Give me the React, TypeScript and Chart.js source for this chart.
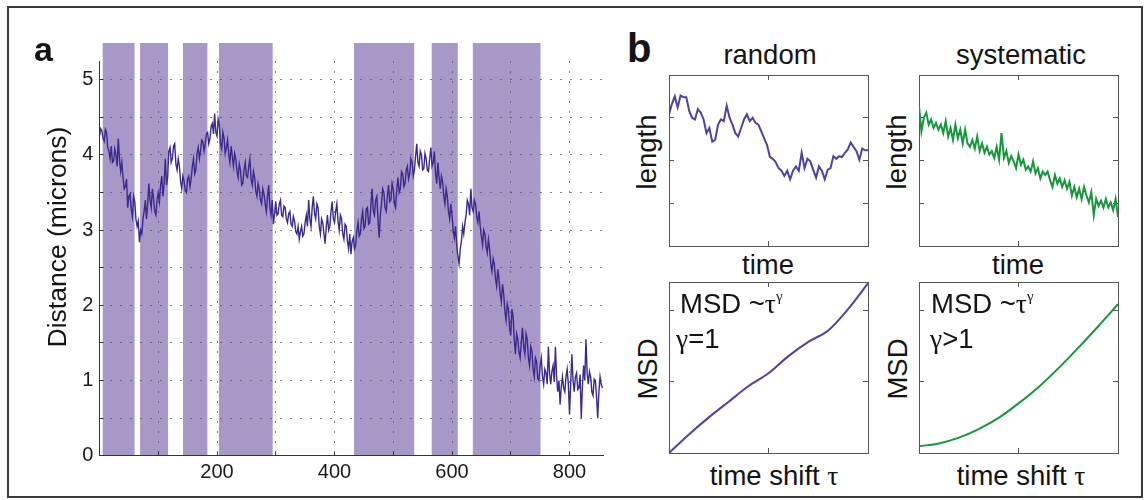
import React, { useEffect, useRef } from "react";
import { Chart, registerables } from "chart.js";

Chart.register(...registerables);

// ---------------- data ----------------
// panel a: distance trace, one sample every FRAME_STEP frames starting at frame 0
const FRAME_STEP = 2;
const DISTANCE_MICRONS = [
  4.25, 4.35, 4.32, 4.22, 4.18, 4.34, 4.30, 4.10, 4.05, 3.95, 4.12, 3.90, 3.92, 4.08, 4.00, 3.85, 4.22, 3.95, 3.78, 3.90,
  3.70, 3.55, 3.58, 3.68, 3.30, 3.45, 3.48, 3.28, 3.18, 3.45, 3.38, 3.15, 3.05, 3.12, 2.84, 3.00, 2.95, 3.15, 3.25, 3.40,
  3.15, 3.35, 3.62, 3.40, 3.30, 3.55, 3.42, 3.25, 3.20, 3.40, 3.50, 3.38, 3.60, 3.72, 3.45, 3.62, 3.95, 3.60, 3.70, 4.05,
  4.10, 3.90, 3.95, 4.12, 4.15, 3.88, 3.80, 3.95, 3.85, 3.65, 3.55, 3.72, 3.65, 3.52, 3.50, 3.68, 3.72, 3.58, 3.68, 3.85,
  3.95, 3.75, 3.80, 4.02, 4.10, 3.95, 4.05, 4.20, 4.18, 4.05, 4.15, 4.28, 4.30, 4.15, 4.22, 4.38, 4.42, 4.28, 4.55, 4.30,
  4.25, 4.48, 4.40, 4.15, 4.08, 4.30, 4.22, 4.02, 4.10, 4.20, 4.00, 3.90, 4.12, 3.98, 3.85, 4.02, 3.95, 3.78, 3.70, 3.88,
  3.80, 3.60, 3.62, 3.80, 3.90, 3.72, 3.70, 3.85, 3.95, 3.68, 3.60, 3.78, 3.70, 3.52, 3.45, 3.62, 3.55, 3.40, 3.35, 3.55,
  3.48, 3.35, 3.25, 3.45, 3.60, 3.30, 3.20, 3.40, 3.08, 3.22, 3.38, 3.20, 3.22, 3.35, 3.40, 3.20, 3.18, 3.32, 3.30, 3.15,
  3.10, 3.22, 3.25, 3.08, 3.05, 3.18, 3.12, 2.98, 2.95, 3.05, 2.88, 2.98, 3.05, 2.92, 2.95, 3.10, 3.20, 3.05, 3.40, 3.15,
  3.05, 3.30, 3.45, 3.22, 3.15, 3.35, 3.30, 3.05, 2.95, 3.15, 3.10, 2.95, 2.82, 3.05, 3.20, 3.00, 3.05, 3.25, 3.38, 3.15,
  3.10, 3.25, 3.35, 3.12, 3.00, 3.20, 3.15, 2.95, 2.88, 3.08, 3.05, 2.85, 2.75, 2.95, 2.68, 2.85, 2.90, 2.75, 2.80, 3.00,
  3.10, 2.92, 2.95, 3.15, 3.25, 3.02, 3.05, 3.28, 3.30, 3.08, 3.10, 3.35, 3.55, 3.25, 3.20, 3.40, 3.45, 3.15, 2.90, 3.20,
  3.35, 3.55, 3.50, 3.30, 3.25, 3.45, 3.60, 3.38, 3.40, 3.62, 3.55, 3.35, 3.30, 3.55, 3.70, 3.50, 3.55, 3.78, 3.75, 3.58,
  3.62, 3.80, 3.85, 3.68, 3.75, 3.95, 3.90, 3.72, 3.80, 3.98, 4.15, 3.90, 3.85, 4.05, 4.00, 3.80, 3.82, 4.02, 3.95, 3.80,
  3.78, 3.95, 4.10, 3.85, 3.90, 4.05, 3.75, 3.62, 3.90, 3.70, 3.55, 3.72, 3.65, 3.45, 3.35, 3.55, 3.45, 3.25, 3.15, 3.35,
  3.20, 3.00, 2.90, 3.05, 2.80, 2.65, 2.55, 2.75, 2.85, 3.05, 2.95, 3.10, 3.20, 3.40, 3.35, 3.20, 3.55, 3.30, 3.25, 3.40,
  3.35, 3.18, 3.10, 3.25, 3.05, 2.92, 2.80, 3.00, 2.95, 2.78, 2.70, 2.88, 2.75, 2.55, 2.45, 2.62, 2.55, 2.35, 2.25, 2.48,
  2.35, 2.15, 2.05, 2.28, 2.15, 1.92, 1.80, 2.02, 1.95, 1.70, 1.60, 1.95, 1.85, 1.55, 1.35, 1.62, 1.55, 1.38, 1.30, 1.52,
  1.70, 1.45, 1.35, 1.62, 1.55, 1.30, 1.20, 1.45, 1.40, 1.15, 1.05, 1.30, 1.25, 1.02, 1.00, 1.20, 1.30, 1.05, 0.95, 1.15,
  1.10, 0.95, 1.45, 1.10, 0.95, 1.12, 1.20, 0.98, 1.45, 1.05, 0.85, 1.00, 0.68, 0.92, 1.05, 0.90, 0.85, 1.05, 1.15, 0.95,
  0.55, 0.95, 1.35, 1.00, 0.85, 1.05, 1.10, 0.88, 0.90, 1.08, 0.50, 0.92, 1.20, 1.00, 1.55, 1.10, 0.95, 1.12, 1.05, 0.85,
  0.80, 1.02, 1.00, 0.78, 0.50, 0.85, 1.05, 0.95, 0.90,
];
const BAND_START = [5, 69, 142, 203, 433, 565, 635];
const BAND_END = [60, 117, 184, 295, 536, 610, 751];
const BAND_TOP = 5.5;
const X_MAX = 857;
const Y_MAX = 5.25;
const X_TICK_LABELS = [200, 400, 600, 800];
const Y_TICK_LABELS = [0, 1, 2, 3, 4, 5];

// panel b: normalised traces (0 = bottom of box, 1 = top)
const RANDOM_LENGTH = [
  0.77, 0.83, 0.875, 0.81, 0.88, 0.87, 0.87, 0.79, 0.75, 0.74,
  0.80, 0.78, 0.74, 0.66, 0.69, 0.61, 0.62, 0.71, 0.74, 0.73,
  0.82, 0.75, 0.71, 0.66, 0.64, 0.69, 0.74, 0.77, 0.73, 0.75,
  0.72, 0.71, 0.67, 0.63, 0.59, 0.52, 0.51, 0.49, 0.455, 0.44,
  0.41, 0.44, 0.39, 0.44, 0.465, 0.44, 0.545, 0.455, 0.51, 0.495,
  0.445, 0.40, 0.465, 0.44, 0.39, 0.445, 0.455, 0.525, 0.51, 0.525,
  0.52, 0.545, 0.565, 0.605, 0.58, 0.555, 0.505, 0.57, 0.56, 0.56,
];
const SYSTEMATIC_LENGTH = [
  0.82, 0.67, 0.75, 0.78, 0.71, 0.74, 0.69, 0.72, 0.68, 0.71,
  0.66, 0.73, 0.64, 0.69, 0.62, 0.71, 0.63, 0.68, 0.60, 0.68,
  0.60, 0.58, 0.62, 0.57, 0.64, 0.555, 0.60, 0.545, 0.58, 0.535,
  0.555, 0.515, 0.58, 0.505, 0.66, 0.515, 0.555, 0.485, 0.525, 0.495,
  0.455, 0.535, 0.475, 0.505, 0.445, 0.465, 0.435, 0.495, 0.425, 0.455,
  0.395, 0.435, 0.415, 0.435, 0.385, 0.345, 0.415, 0.365, 0.395, 0.345,
  0.385, 0.335, 0.375, 0.295, 0.345, 0.285, 0.335, 0.275, 0.345, 0.295,
  0.255, 0.315, 0.18, 0.275, 0.235, 0.265, 0.225, 0.275, 0.225, 0.255,
  0.21, 0.275, 0.17,
];
const MSD_TAU = [0, 0.1, 0.2, 0.3, 0.4, 0.5, 0.6, 0.7, 0.8, 0.9, 1.0];
const MSD_RANDOM = [0.0, 0.13, 0.25, 0.36, 0.47, 0.56, 0.68, 0.78, 0.86, 1.01, 1.19];
const MSD_SYSTEMATIC = [0.048, 0.067, 0.108, 0.168, 0.246, 0.348, 0.462, 0.594, 0.738, 0.888, 1.044];

// ---------------- styles ----------------
const SANS = "'Liberation Sans', Arial, Helvetica, sans-serif";
const SERIF = "'Liberation Serif', 'DejaVu Serif', serif";
const BAND_COLOR = "#a898c8";
const TRACE_COLOR = "#3b2a8c";
const BLUE = "#4a44a2";
const GREEN = "#17973c";
const GRID_DOT = "rgba(70,70,70,0.65)";

const baseOptions = {
  animation: false,
  responsive: false,
  maintainAspectRatio: false,
  devicePixelRatio: 1,
  events: [],
  plugins: { legend: { display: false }, tooltip: { enabled: false }, title: { display: false } },
};

function bandsConfig(): any {
  return {
    type: "line",
    data: {
      datasets: BAND_START.map((s, i) => ({
        data: [
          { x: s, y: BAND_TOP },
          { x: BAND_END[i], y: BAND_TOP },
        ],
        fill: "origin",
        backgroundColor: BAND_COLOR,
        borderColor: "rgba(0,0,0,0)",
        borderWidth: 0,
        pointRadius: 0,
      })),
    },
    options: {
      ...baseOptions,
      layout: { padding: { left: 79.5, top: 12.65, right: 17, bottom: 34.3 } },
      scales: {
        x: { type: "linear", min: 0, max: X_MAX, display: false },
        y: { type: "linear", min: 0, max: BAND_TOP, display: false },
      },
    },
  };
}

function mainConfig(): any {
  return {
    type: "line",
    data: {
      datasets: [
        {
          data: DISTANCE_MICRONS.map((v, i) => ({ x: i * FRAME_STEP, y: v })),
          borderColor: TRACE_COLOR,
          borderWidth: 1.4,
          pointRadius: 0,
          fill: false,
          tension: 0,
        },
      ],
    },
    options: {
      ...baseOptions,
      layout: { padding: { left: 0, top: 31, right: 17, bottom: 0 } },
      scales: {
        x: {
          type: "linear",
          position: "bottom",
          min: 0,
          max: X_MAX,
          ticks: {
            stepSize: 100,
            includeBounds: false,
            autoSkip: false,
            maxRotation: 0,
            minRotation: 0,
            padding: 8.5,
            color: "#1a1a1a",
            font: { family: SANS, size: 20 },
            callback: (v: number) => (X_TICK_LABELS.includes(Math.round(v)) ? String(Math.round(v)) : ""),
          },
          grid: { color: GRID_DOT, lineWidth: 1, drawTicks: true, tickLength: -4, tickColor: "#333", tickWidth: 1 },
          border: { display: true, color: "#333", width: 1, dash: [2, 8] },
          afterFit: (s: any) => {
            s.height = 34.3;
          },
        },
        y: {
          type: "linear",
          position: "left",
          min: 0,
          max: Y_MAX,
          ticks: {
            stepSize: 0.5,
            includeBounds: false,
            autoSkip: false,
            padding: 10.2,
            color: "#1a1a1a",
            font: { family: SANS, size: 20 },
            callback: (v: number) =>
              Math.abs(v - Math.round(v)) < 1e-6 && Y_TICK_LABELS.includes(Math.round(v)) ? String(Math.round(v)) : "",
          },
          grid: { color: GRID_DOT, lineWidth: 1, drawTicks: true, tickLength: -4, tickColor: "#333", tickWidth: 1 },
          border: { display: true, color: "#333", width: 1, dash: [2, 8] },
          afterFit: (s: any) => {
            s.width = 79.5;
          },
        },
      },
    },
  };
}

function boxAxis(position: string, max: number, step: number) {
  return {
    type: "linear",
    position,
    min: 0,
    max,
    display: true,
    ticks: { display: false, stepSize: step, includeBounds: false },
    grid: { drawOnChartArea: false, drawTicks: true, tickLength: -5, tickColor: "#555", tickWidth: 1 },
    border: { display: true, color: "#555", width: 1 },
    afterFit: (s: any) => {
      if (s.isHorizontal()) s.height = 0;
      else s.width = 0;
    },
  };
}

function boxConfig(points: { x: number; y: number }[], color: string, yMax: number, yStep: number, smooth: boolean): any {
  return {
    type: "line",
    data: {
      datasets: [
        {
          data: points,
          borderColor: color,
          borderWidth: 2,
          pointRadius: 0,
          fill: false,
          tension: smooth ? 0.4 : 0,
          cubicInterpolationMode: smooth ? "monotone" : "default",
        },
      ],
    },
    options: {
      ...baseOptions,
      layout: { padding: 2 },
      scales: {
        x: boxAxis("bottom", 1, 0.5),
        x2: boxAxis("top", 1, 0.5),
        y: boxAxis("left", yMax, yStep),
        y2: boxAxis("right", yMax, yStep),
      },
    },
  };
}

const traceConfig = (vals: number[], color: string) =>
  boxConfig(vals.map((v, i) => ({ x: i / (vals.length - 1), y: v })), color, 1, 0.25, false);
const msdConfig = (vals: number[], color: string) =>
  boxConfig(vals.map((v, i) => ({ x: MSD_TAU[i], y: v })), color, 1.2, 0.5, true);

// ---------------- components ----------------
function ChartCanvas(props: { left: number; top: number; width: number; height: number; build: () => any }) {
  const ref = useRef<HTMLCanvasElement>(null);
  useEffect(() => {
    const chart = new Chart(ref.current as HTMLCanvasElement, props.build());
    return () => chart.destroy();
  }, []);
  return (
    <canvas
      ref={ref}
      width={props.width}
      height={props.height}
      style={{ position: "absolute", left: props.left, top: props.top, width: props.width, height: props.height, display: "block" }}
    />
  );
}

function Text(props: {
  x: number;
  baseline: number;
  size: number;
  center?: boolean;
  bold?: boolean;
  children: React.ReactNode;
}) {
  const { x, baseline, size, center, bold, children } = props;
  return (
    <div
      style={{
        position: "absolute",
        left: x,
        top: baseline - 0.8465 * size,
        fontFamily: SANS,
        fontSize: size,
        lineHeight: `${size}px`,
        fontWeight: bold ? 700 : 400,
        whiteSpace: "nowrap",
        color: "#141414",
        transform: center ? "translateX(-50%)" : undefined,
      }}
    >
      {children}
    </div>
  );
}

function VText(props: { cx: number; cy: number; size: number; children: React.ReactNode }) {
  const { cx, cy, size, children } = props;
  return (
    <div
      style={{
        position: "absolute",
        left: cx,
        top: cy,
        fontFamily: SANS,
        fontSize: size,
        lineHeight: `${size}px`,
        whiteSpace: "nowrap",
        color: "#141414",
        transform: "translate(-50%, -50%) rotate(-90deg)",
      }}
    >
      {children}
    </div>
  );
}

const Greek = (p: { children: React.ReactNode; size?: number; raise?: number }) => (
  <span style={{ fontFamily: SERIF, fontSize: p.size, position: "relative", top: p.raise ? -p.raise : 0 }}>{p.children}</span>
);

export default function App() {
  const LX = 667;
  const RX = 917;
  const TY = 73;
  const BY = 280;
  const W = 203;
  const H = 175;
  return (
    <div style={{ position: "absolute", left: 0, top: 0, width: 1148, height: 500, background: "#fff", overflow: "hidden" }}>
      <div
        style={{
          position: "absolute",
          left: 7,
          top: 6,
          width: 1136,
          height: 492,
          border: "2px solid #3a3a3a",
          boxSizing: "border-box",
        }}
      />
      {/* panel a */}
      <ChartCanvas left={20} top={30} width={600} height={460} build={bandsConfig} />
      <ChartCanvas left={20} top={30} width={600} height={460} build={mainConfig} />
      <Text x={34} baseline={60.7} size={34} bold>
        a
      </Text>
      <VText cx={57} cy={236.6} size={26.5}>
        Distance (microns)
      </VText>

      {/* panel b */}
      <Text x={627} baseline={61.7} size={40} bold>
        b
      </Text>
      <Text x={770} baseline={64} size={27.5} center>
        random
      </Text>
      <Text x={1021} baseline={64} size={27.5} center>
        systematic
      </Text>

      <ChartCanvas left={LX} top={TY} width={W} height={H} build={() => traceConfig(RANDOM_LENGTH, BLUE)} />
      <ChartCanvas left={RX} top={TY} width={W} height={H} build={() => traceConfig(SYSTEMATIC_LENGTH, GREEN)} />
      <ChartCanvas left={LX} top={BY} width={W} height={H} build={() => msdConfig(MSD_RANDOM, BLUE)} />
      <ChartCanvas left={RX} top={BY} width={W} height={H} build={() => msdConfig(MSD_SYSTEMATIC, GREEN)} />

      <VText cx={647} cy={152} size={27.5}>
        length
      </VText>
      <VText cx={897} cy={152} size={27.5}>
        length
      </VText>
      <VText cx={648} cy={369} size={27.5}>
        MSD
      </VText>
      <VText cx={898} cy={369} size={27.5}>
        MSD
      </VText>

      <Text x={768} baseline={274} size={27.5} center>
        time
      </Text>
      <Text x={1018} baseline={274} size={27.5} center>
        time
      </Text>
      <Text x={774} baseline={485} size={27.5} center>
        time shift <Greek>τ</Greek>
      </Text>
      <Text x={1021} baseline={485} size={27.5} center>
        time shift <Greek>τ</Greek>
      </Text>

      <Text x={680} baseline={313} size={27.5}>
        MSD ~<Greek>τ</Greek>
        <Greek size={15} raise={12}>
          γ
        </Greek>
      </Text>
      <Text x={676} baseline={348} size={27.5}>
        <Greek>γ</Greek>=1
      </Text>
      <Text x={931} baseline={313} size={27.5}>
        MSD ~<Greek>τ</Greek>
        <Greek size={15} raise={12}>
          γ
        </Greek>
      </Text>
      <Text x={930} baseline={348} size={27.5}>
        <Greek>γ</Greek>&gt;1
      </Text>
    </div>
  );
}
